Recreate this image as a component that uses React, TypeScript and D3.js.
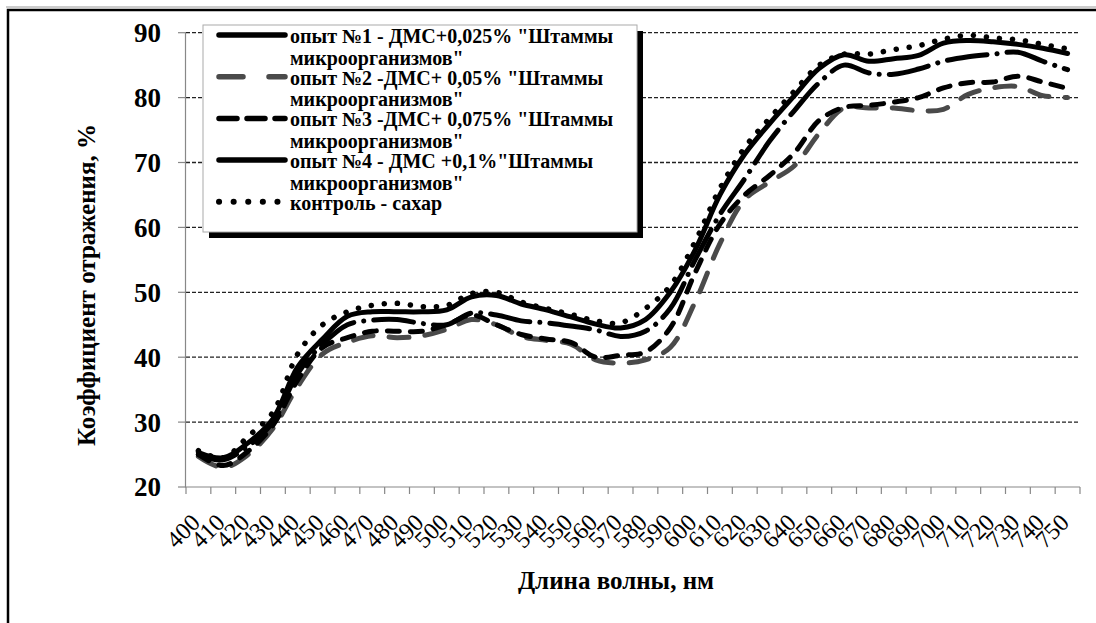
import React from "react";
import * as d3 from "d3";

const categories = [400,410,420,430,440,450,460,470,480,490,500,510,520,530,540,550,560,570,580,590,600,610,620,630,640,650,660,670,680,690,700,710,720,730,740,750];

const series1 = [25.3,24.5,26.8,30.5,38.5,42.8,46.3,47,47,47,47.3,49.3,49.5,48.2,47.3,46.2,45.1,44.5,45.8,50,56.5,65,71.3,76,80.3,84.5,86.6,85.6,86,86.5,88.4,88.8,88.6,88.2,87.6,86.8];
const series2 = [24.7,23,25,29,35.5,40.5,42.3,43.3,43,43.3,44.3,45.8,45,43.2,42.6,42,39.6,39.1,39.6,41.5,48.5,57.5,64.3,67,69.5,74.5,78.4,78.4,78.4,78,78.2,80.5,81.5,81.7,80.3,80];
const series3 = [25,23.3,25.5,29.5,36.5,41.5,43,44,44,44,45,46.5,45,43.5,42.8,42.3,40,40.3,40.8,44.5,53,60.5,65,68,71.5,76.5,78.5,78.8,79.3,80,81.5,82.3,82.4,83.3,82.4,81.4];
const series4 = [25,24.2,26.3,30,37.5,42,45,45.7,45.8,45.2,45,46.8,46.5,45.6,45.3,44.8,44.2,43.2,44,47.5,55,62,67.5,73.3,78,82.3,85,83.8,83.6,84.4,85.6,86.3,86.7,87,85.6,84.3];
const series5 = [25.6,24.5,27.8,31.5,40.5,45,47,48,48.3,47.8,48,49.8,50,48.5,47.5,46.6,45.6,45.3,47.5,51,57.8,66,72.3,76.8,81,85,86.7,86.7,87.4,88,89,89.6,89.2,88.9,88.2,87.5];

const yTicks = [20,30,40,50,60,70,80,90];

const legendLines = [
  ["опыт №1 - ДМС+0,025% \"Штаммы", "микроорганизмов\""],
  ["опыт №2 -ДМС+ 0,05% \"Штаммы", "микроорганизмов\""],
  ["опыт №3 -ДМС+ 0,075% \"Штаммы", "микроорганизмов\""],
  ["опыт №4 - ДМС +0,1%\"Штаммы", "микроорганизмов\""],
  ["контроль - сахар"],
];

const yTitle = "Коэффициент отражения, %";
const xTitle = "Длина волны, нм";

const styles = [
  { color: "#000", width: 5, dash: undefined as string | undefined },
  { color: "#4a4a4a", width: 5, dash: "20 16" },
  { color: "#000", width: 5, dash: "12 11" },
  { color: "#000", width: 5, dash: "40 10 0.1 10" },
  { color: "#000", width: 5.5, dash: "0.1 13" },
];

const FONT = "Liberation Serif, Tinos, Times New Roman, DejaVu Serif, serif";

export default function App() {
  const W = 1096, H = 623;
  const x = d3.scaleBand<number>().domain(categories).range([186, 1080]);
  const y = d3.scaleLinear().domain([20, 90]).range([487, 32.7]);
  const cx = (c: number) => (x(c) as number) + x.bandwidth() / 2;
  const allSeries = [series1, series2, series3, series4, series5];
  const line = d3
    .line<number>()
    .x((_, i) => cx(categories[i]))
    .y((v) => y(v))
    .curve(d3.curveCatmullRom.alpha(0.5));

  const boundaries = d3.range(categories.length + 1).map((i) => 186 + i * x.bandwidth());
  const legendX = 203, legendY = 25, legendW = 434, legendH = 207;
  const txt = { fontFamily: FONT } as React.CSSProperties;

  return (
    <svg width={W} height={H} style={{ position: "absolute", left: 0, top: 0, background: "#fff" }}>
      <rect x={0} y={0} width={W} height={H} fill="#fff" />
      <line x1={6} y1={7} x2={W} y2={7} stroke="#999" strokeWidth={1} />
      <rect x={8} y={10} width={1300} height={800} fill="none" stroke="#000" strokeWidth={2.5} />
      {yTicks.filter((t) => t > 20).map((t) => (
        <line key={t} x1={186} x2={1080} y1={y(t)} y2={y(t)} stroke="#222" strokeWidth={1.3} strokeDasharray="4 2" />
      ))}
      <line x1={185.5} x2={185.5} y1={y(90)} y2={y(20)} stroke="#888" strokeWidth={1.2} />
      {yTicks.map((t) => (
        <g key={t}>
          <line x1={178} x2={186} y1={y(t)} y2={y(t)} stroke="#888" strokeWidth={1.2} />
          <text x={161} y={y(t)} dy="0.35em" textAnchor="end" style={txt} fontWeight="bold" fontSize={27} fill="#000">{t}</text>
        </g>
      ))}
      <line x1={185} x2={1080} y1={y(20)} y2={y(20)} stroke="#888" strokeWidth={1.2} />
      {boundaries.map((b, i) => (
        <line key={i} x1={b} x2={b} y1={y(20)} y2={y(20) + 7} stroke="#888" strokeWidth={1.2} />
      ))}
      {categories.map((c) => {
        const px = cx(c) + 3, py = y(20) + 37;
        return (
          <text key={c} x={px} y={py} textAnchor="end" transform={`rotate(-45 ${px} ${py})`} style={txt} fontSize={24} fill="#000">{c}</text>
        );
      })}
      {allSeries.map((s, i) => (
        <path key={i} d={line(s) || ""} fill="none" stroke={styles[i].color} strokeWidth={styles[i].width}
          strokeDasharray={styles[i].dash} strokeLinecap="round" strokeLinejoin="round" />
      ))}
      <rect x={legendX + 6} y={legendY + 6} width={legendW} height={legendH} fill="#000" />
      <rect x={legendX} y={legendY} width={legendW} height={legendH} fill="#fff" stroke="#aaa" strokeWidth={1} />
      {legendLines.map((ls, i) => {
        const sy = 35 + i * 41.7;
        const st = styles[i];
        return (
          <g key={i}>
            <line x1={219} x2={285} y1={sy} y2={sy} stroke={st.color} strokeWidth={st.width + 0.5}
              strokeDasharray={i === 3 ? undefined : i === 4 ? "0.1 14.5" : i === 1 ? "24 26" : st.dash ? "18 10" : undefined}
              strokeLinecap="round" />
            {ls.map((t, j) => (
              <text key={j} x={290} y={sy + 8 + j * 21.5} style={txt} fontWeight="bold" fontSize={20} fill="#000">{t}</text>
            ))}
          </g>
        );
      })}
      <text x={0} y={0} transform={`translate(95 ${285}) rotate(-90)`} textAnchor="middle" style={txt} fontWeight="bold" fontSize={25} fill="#000">{yTitle}</text>
      <text x={616} y={589} textAnchor="middle" style={txt} fontWeight="bold" fontSize={25} fill="#000">{xTitle}</text>
    </svg>
  );
}
